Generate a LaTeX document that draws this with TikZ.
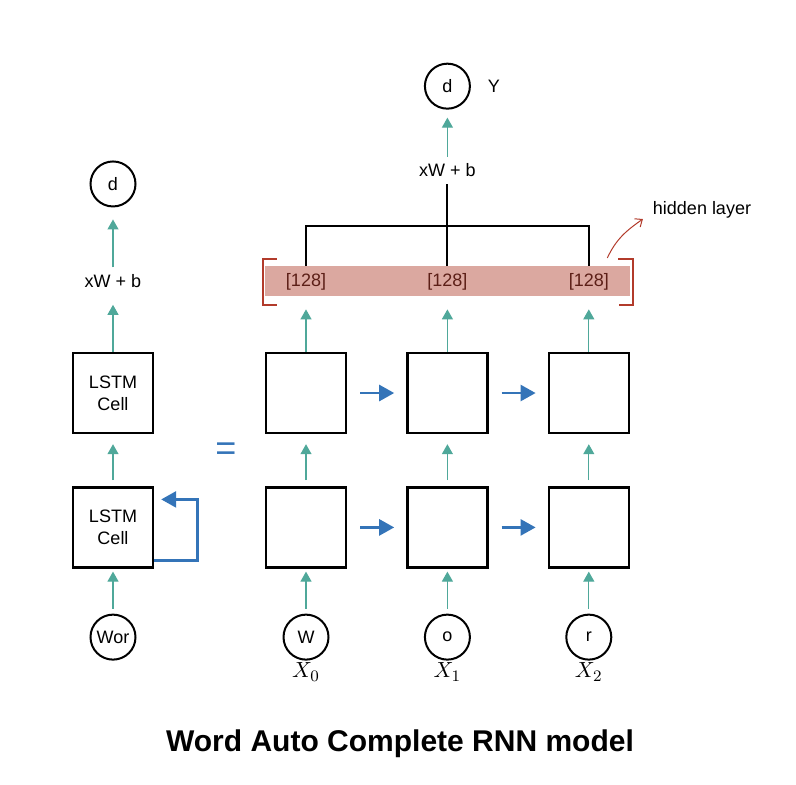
\documentclass[tikz,border=0pt]{standalone}
\usepackage{fontspec}
\setmainfont{Liberation Sans}
\usetikzlibrary{arrows.meta,positioning}
\definecolor{rnnteal}{HTML}{4FA89A}
\definecolor{rnnblue}{HTML}{3474B8}
\definecolor{rnnpink}{HTML}{DBA8A0}
\definecolor{rnnred}{HTML}{B23B2B}
\definecolor{rnnbrown}{HTML}{5C1F17}

\begin{document}
\begin{tikzpicture}[
  x=0.5pt,y=-0.5pt,
  node distance=26pt and 29.5pt,
  every node/.style={font=\fontsize{9}{11}\selectfont},
  cell/.style={draw,line width=1.2pt,minimum size=40pt,inner sep=0pt,align=center},
  token/.style={draw,circle,line width=1pt,minimum size=22.5pt,inner sep=0pt},
  sublbl/.style={font=\fontsize{11}{13}\selectfont,inner sep=1pt},
  up/.style={-{Triangle[length=5pt,width=5.5pt]},color=rnnteal,line width=0.6pt},
  recur/.style={-{Triangle[length=7.5pt,width=8pt]},color=rnnblue,line width=1.3pt},
  tree/.style={line width=1pt},
  bracket/.style={color=rnnred,line width=1pt}
]
  \useasboundingbox (0,0) rectangle (796,784);

  % folded network
  \node[cell] (lstmA) at (113,393) {LSTM\\Cell};
  \node[cell,below=of lstmA] (lstmB) {LSTM\\Cell};
  \node[token,below=22.5pt of lstmB] (wor) {Wor};
  \node[above=28.5pt of lstmA] (xwl) {xW + b};
  \node[token,above=30pt of xwl] (outl) {d};
  \node[text=rnnblue,font=\fontsize{18}{18}\selectfont] (eq) at (226,452) {=};

  % unrolled network
  \node[cell] (top0) at (306,393) {};
  \node[cell,right=of top0] (top1) {};
  \node[cell,right=of top1] (top2) {};
  \node[cell,below=of top0] (bot0) {};
  \node[cell,below=of top1] (bot1) {};
  \node[cell,below=of top2] (bot2) {};
  \node[token,below=22.5pt of bot0] (in0) {W};
  \node[token,below=22.5pt of bot1] (in1) {o};
  \node[token,below=22.5pt of bot2] (in2) {r};
  \node[sublbl,below=0pt of in0] (x0) {$X_0$};
  \node[sublbl,below=0pt of in1] (x1) {$X_1$};
  \node[sublbl,below=0pt of in2] (x2) {$X_2$};

  % hidden layer
  \node[fill=rnnpink,minimum width=182.5pt,minimum height=15pt,inner sep=0pt,above=27.5pt of top1] (bar) {};
  \node[text=rnnbrown] (hid0) at (top0 |- bar) {[128]};
  \node[text=rnnbrown] (hid1) at (top1 |- bar) {[128]};
  \node[text=rnnbrown] (hid2) at (top2 |- bar) {[128]};
  \coordinate[above=20pt of bar] (join);
  \node[above=21pt of join] (xwr) {xW + b};
  \node[token,above=23.5pt of xwr] (outr) {d};
  \node[right=5pt of outr] (ylbl) {Y};
  \node (hidlbl) at (702,210) {hidden layer};
  \node[font=\fontsize{15}{18}\selectfont\bfseries] (title) at (400,744) {Word Auto Complete RNN model};

  \draw[bracket] ([xshift=6pt,yshift=3.5pt]bar.north west) -| ([xshift=-1pt,yshift=-4pt]bar.south west) -- ++(7pt,0pt);
  \draw[bracket] ([xshift=-6pt,yshift=3.5pt]bar.north east) -| ([xshift=1.5pt,yshift=-4pt]bar.south east) -- ++(-7pt,0pt);
  \draw[color=rnnred,line width=0.5pt,-{Straight Barb[length=3pt,width=5pt]}] ([xshift=-11.5pt,yshift=4pt]bar.north east) to[out=65,in=215] ([xshift=-1.5pt,yshift=-4.5pt]hidlbl.west);

  % vertical flow
  \draw[up,shorten >=1.5pt,shorten <=2.5pt] (wor) -- (lstmB);
  \draw[up,shorten >=5pt,shorten <=3pt] (lstmB) -- (lstmA);
  \draw[up,shorten >=5pt] (lstmA) -- (xwl);
  \draw[up,shorten >=6pt] (xwl) -- (outl);
  \draw[up,shorten >=1.5pt,shorten <=2.5pt] (in0) -- (bot0);
  \draw[up,shorten >=1.5pt,shorten <=2.5pt] (in1) -- (bot1);
  \draw[up,shorten >=1.5pt,shorten <=2.5pt] (in2) -- (bot2);
  \draw[up,shorten >=5pt,shorten <=3pt] (bot0) -- (top0);
  \draw[up,shorten >=5pt,shorten <=3pt] (bot1) -- (top1);
  \draw[up,shorten >=5pt,shorten <=3pt] (bot2) -- (top2);
  \draw[up,shorten >=6.25pt] (top0) -- (hid0);
  \draw[up,shorten >=6.25pt] (top1) -- (hid1);
  \draw[up,shorten >=6.25pt] (top2) -- (hid2);
  \draw[up,shorten >=4pt] (xwr) -- (outr);

  % merge into output
  \draw[tree] (hid0 |- bar.north) -- (hid0 |- join) -- (hid2 |- join) -- (hid2 |- bar.north);
  \draw[tree] (hid1 |- bar.north) -- (xwr);

  % recurrence
  \draw[recur] ([yshift=-16.5pt]lstmB.east) -- ++(21.5pt,0pt) |- ([xshift=3.5pt,yshift=14pt]lstmB.east);
  \draw[recur,shorten <=6.5pt,shorten >=6pt] (top0) -- (top1);
  \draw[recur,shorten <=6.5pt,shorten >=6pt] (top1) -- (top2);
  \draw[recur,shorten <=6.5pt,shorten >=6pt] (bot0) -- (bot1);
  \draw[recur,shorten <=6.5pt,shorten >=6pt] (bot1) -- (bot2);
\end{tikzpicture}
\end{document}
